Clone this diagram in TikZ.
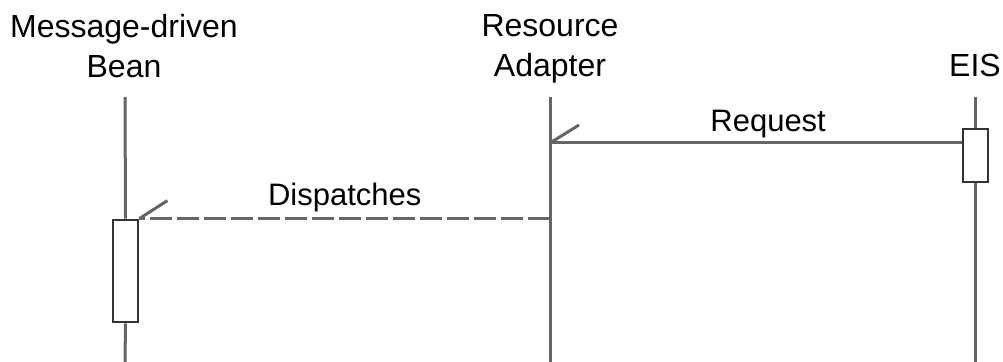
\documentclass[tikz,border=0pt]{standalone}
\usepackage{fontspec}
\setmainfont{Liberation Sans}
\usetikzlibrary{positioning}
\tikzset{>=latex}

\begin{document}
\begin{tikzpicture}[x=0.5pt, y=-0.5pt,
		life/.style={draw=black!60, line width=1.5pt},
		actbox/.style={rectangle, draw=black!80, line width=1.4pt, fill=white, minimum width=12.5pt, inner sep=0pt},
		head/.style={align=center, font=\fontsize{16}{20}\selectfont, inner sep=0pt},
		msg/.style={font=\fontsize{15.5}{19}\selectfont, inner sep=0pt}]
		\useasboundingbox (0,0) rectangle (1003,362);
		\node[head, anchor=north] (mdb) at (124,14) {Message-driven\\Bean};
		\node[head, anchor=north] (ra) at (550,14) {Resource\\Adapter};
		\node[head, anchor=base] (eis) at (975,77) {EIS};
		\coordinate (mdbtop) at (125,97);
		\coordinate (mdbbot) at (125,362);
		\coordinate (ratop) at (550,97);
		\coordinate (rabot) at (550,362);
		\coordinate (eistop) at (975.5,97);
		\coordinate (eisbot) at (975.5,362);
		\node[actbox, minimum height=51pt] (mdbact) at (125.5,271) {};
		\node[actbox, minimum height=26.5pt] (eisact) at (975.5,155.5) {};
		\coordinate (req) at (550,143);
		\draw[life] (mdbtop) -- (mdbact.north);
		\draw[life] (mdbact.south) -- (mdbbot);
		\draw[life] (ratop) -- (rabot);
		\draw[life] (eistop) -- (eisact.north);
		\draw[life] (eisact.south) -- (eisbot);
		\draw[life] (eisact.west |- req) -- node[msg, pos=0.47, above=2pt] {Request} (req);
		\draw[life] (req) -- ++(29,-18);
		\draw[life, dash pattern=on 11pt off 2.5pt] (ra.south |- mdbact.north) -- node[msg, above=2.6pt] {Dispatches} (mdbact.north east);
		\draw[life] (mdbact.north east) -- ++(28,-18);
	\end{tikzpicture}
\end{document}
